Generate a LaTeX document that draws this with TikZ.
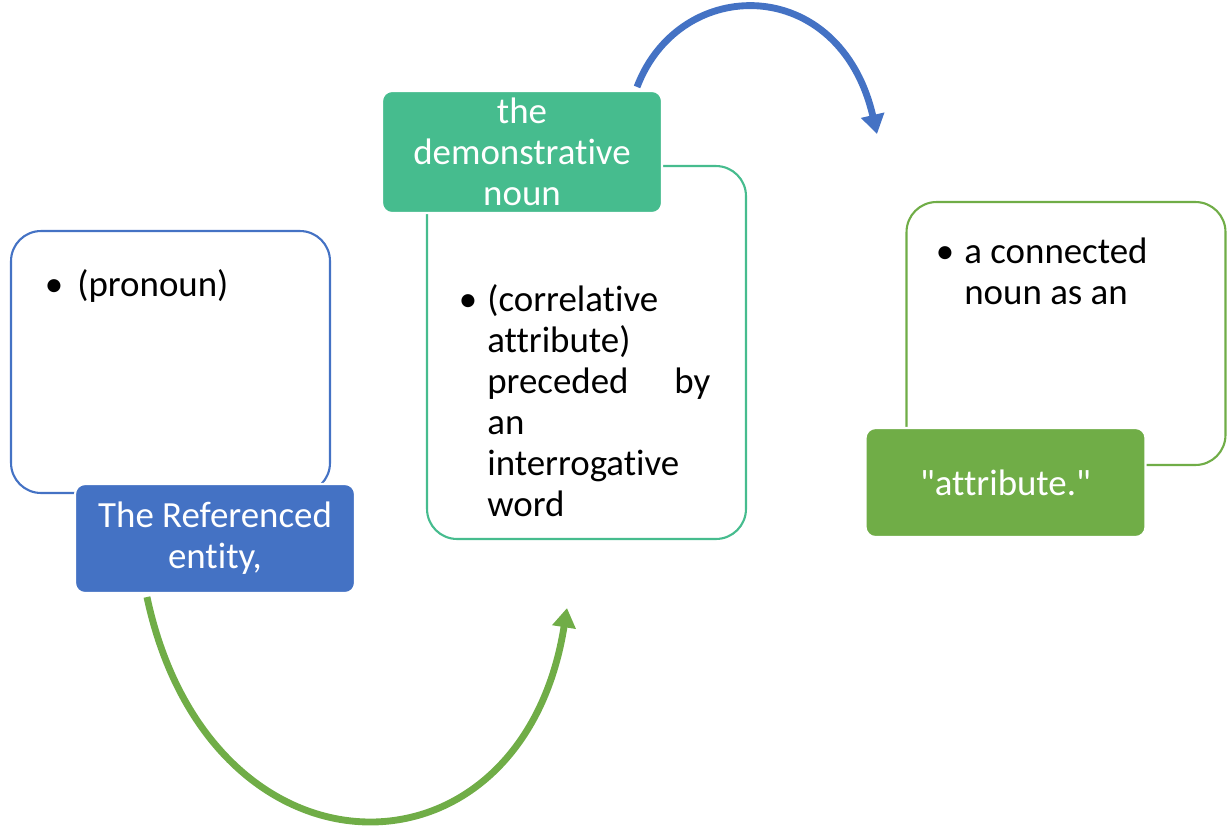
\documentclass[tikz,border=0pt]{standalone}
\usepackage{fontspec}
\setmainfont{Carlito}[Ligatures={TeX,NoCommon}]
\usepackage{tikz}
\usetikzlibrary{arrows.meta}
\usepackage{xcolor}
\definecolor{accblue}{HTML}{4472C4}
\definecolor{accteal}{HTML}{46BC8E}
\definecolor{accgreen}{HTML}{70AD47}

\tikzset{
  outlinebox/.style={draw=#1, line width=1.2pt, rounded corners=0.6cm, fill=white,
    minimum width=6.38cm, inner sep=0pt},
  labelbox/.style={fill=#1, draw=white, line width=1.2pt, rounded corners=0.2cm,
    minimum width=5.6cm, text=white, align=center, inner sep=0pt,
    font=\fontsize{21}{23.3}\selectfont},
  bullettext/.style={anchor=north west, inner sep=0pt, align=left,
    font=\fontsize{21}{23.3}\selectfont},
  flowarrow/.style={draw=#1, line width=3.9pt, -{Triangle[width=13pt,length=11pt]}}
}

\begin{document}
\begin{tikzpicture}[x=0.02cm, y=-0.02cm]
  \useasboundingbox (0,0) rectangle (1230,825);

  \node[outlinebox=accblue, minimum height=5.24cm] (pronounbox) at (170.5,362) {};
  \node[bullettext] (pronountext) at (77,269)
    {\llap{\textbullet\hspace{0.28cm}}(pronoun)};
  \node[labelbox=accblue, minimum height=2.18cm] (refentity) at (215,538.5)
    {The Referenced\\entity,};

  \node[outlinebox=accteal, minimum height=7.46cm] (correlbox) at (586.5,352.5) {};
  \node[bullettext, text width=4.46cm, align=left] (correltext) at (487,284)
    {\llap{\textbullet\hspace{0.2cm}}(correlative\\
     attribute)\\
     preceded\hfill by\\
     an\\
     interrogative\\
     word};
  \node[labelbox=accteal, minimum height=2.44cm] (demnoun) at (522,152)
    {the\\demonstrative\\noun};

  \node[outlinebox=accgreen, minimum height=5.26cm] (attrbox) at (1066,333.5) {};
  \node[bullettext] (attrtext) at (964,238)
    {\llap{\textbullet\hspace{0.2cm}}a connected\\noun as an};
  \node[labelbox=accgreen, minimum height=2.18cm] (attrlabel) at (1005.5,482.5)
    {\textquotedbl attribute.\textquotedbl};

  \coordinate (greenend) at (567,608);
  \coordinate (blueend) at (877,134);

  \draw[flowarrow=accgreen] ([xshift=1.46cm,yshift=-0.06cm]refentity.south west)
    .. controls (210,892) and (522,892) .. (greenend);
  \draw[flowarrow=accblue] ([xshift=-0.52cm,yshift=0.06cm]demnoun.north east)
    .. controls (680,-26) and (840,-26) .. (blueend);
\end{tikzpicture}
\end{document}
